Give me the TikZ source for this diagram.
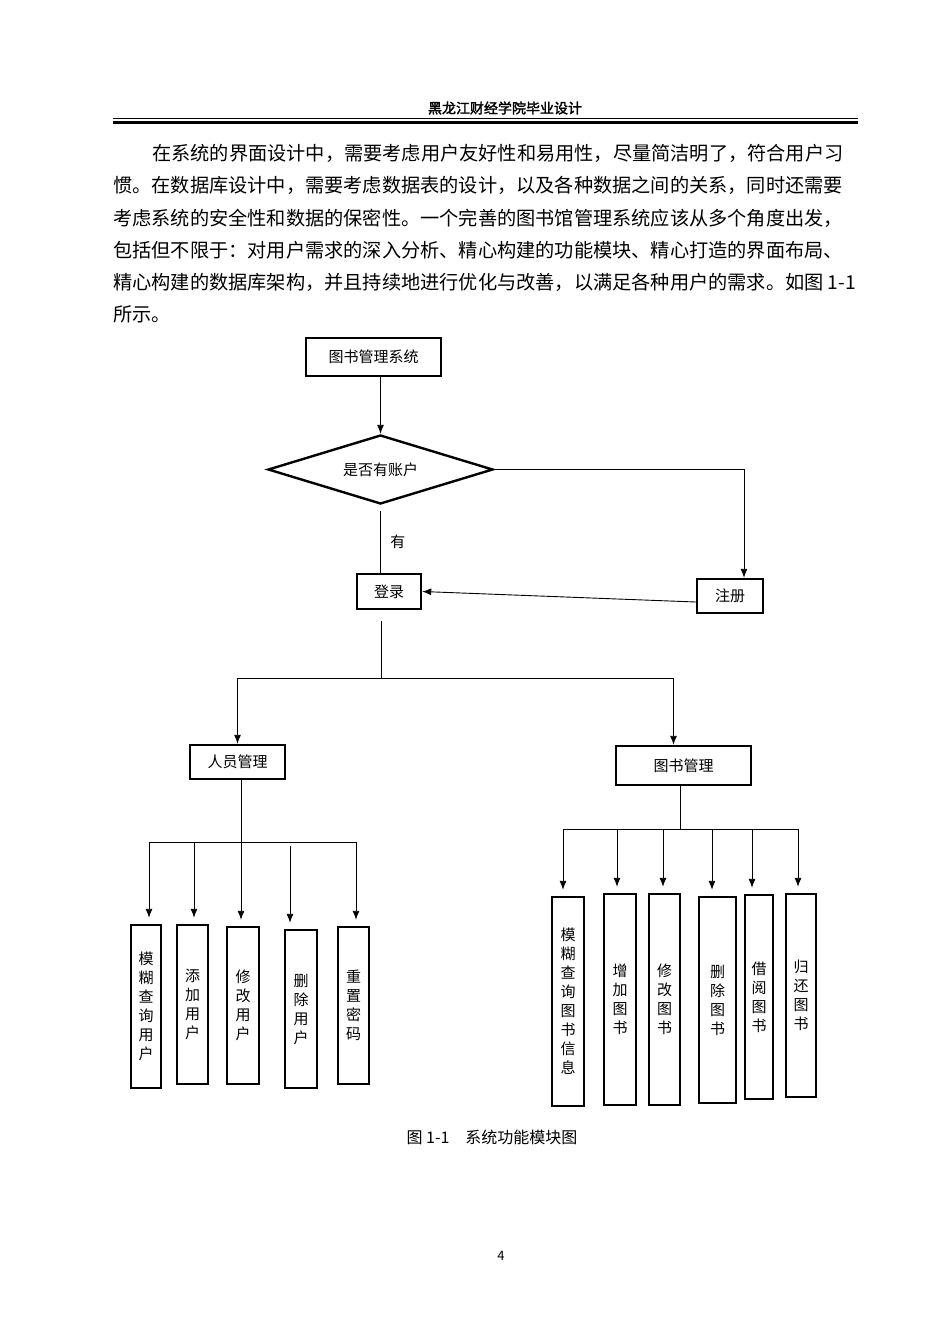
\documentclass[tikz,border=0pt]{standalone}
\usepackage{fontspec}
\setmainfont{Noto Sans CJK SC}[AutoFakeBold=2]
\usetikzlibrary{shapes.geometric,arrows.meta}
\tikzset{
  box/.style={draw, line width=2.4pt, inner sep=0pt, font=\fontsize{15pt}{19pt}\selectfont},
  vbox/.style={box, align=center},
  arr/.style={-{Latex[length=9pt,width=7pt]}, line width=0.9pt},
  ln/.style={line width=0.9pt},
  para/.style={anchor=west, inner sep=0pt, font=\fontsize{19.2pt}{19.2pt}\selectfont}
}
\begin{document}
\begin{tikzpicture}[x=1pt,y=1pt]
\useasboundingbox (0,0) rectangle (950,-1344);
% page header and text
\node[font=\fontsize{14pt}{14pt}\selectfont\bfseries] (head) at (505,-108) {黑龙江财经学院毕业设计};
\draw[line width=1pt] (113,-118) -- (858,-118);
\draw[line width=2.6pt] (113,-122.5) -- (858,-122.5);
\node[para] (p1) at (152,-153) {在系统的界面设计中，需要考虑用户友好性和易用性，尽量简洁明了，符合用户习};
\node[para] (p2) at (113,-185) {惯。在数据库设计中，需要考虑数据表的设计，以及各种数据之间的关系，同时还需要};
\node[para] (p3) at (113,-218) {考虑系统的安全性和数据的保密性。一个完善的图书馆管理系统应该从多个角度出发，};
\node[para] (p4) at (113,-250) {包括但不限于：对用户需求的深入分析、精心构建的功能模块、精心打造的界面布局、};
\node[para] (p5) at (113,-282) {精心构建的数据库架构，并且持续地进行优化与改善，以满足各种用户的需求。如图 1-1};
\node[para] (p6) at (113,-314) {所示。};
% top of the chart
\node[box, minimum width=135pt, minimum height=38pt] (sys) at (373.5,-357) {图书管理系统};
\node[draw, diamond, line width=2.4pt, inner sep=0pt, aspect=3.26, minimum width=225pt, minimum height=69pt, font=\fontsize{15pt}{19pt}\selectfont] (acc) at (380.5,-469.5) {是否有账户};
\node[box, minimum width=64pt, minimum height=35pt] (login) at (389,-591.5) {登录};
\node[box, minimum width=66pt, minimum height=34pt] (reg) at (730,-596) {注册};
\draw[arr] (acc.north |- sys.south) -- (acc.north);
\draw[arr] (acc.east) -| ([xshift=14pt]reg.north);
\draw[ln] ([yshift=-6pt]acc.south) -- (acc.south |- login.north) node[midway, right=6pt, font=\fontsize{15pt}{15pt}\selectfont] {有};
\draw[arr] ([yshift=-6pt]reg.west) -- (login.east);
% second level
\node[box, minimum width=95pt, minimum height=34pt] (user) at (237.5,-762) {人员管理};
\node[box, minimum width=135pt, minimum height=39pt] (book) at (683.5,-765.5) {图书管理};
\coordinate (mid) at (381,-678);
\draw[ln] ([yshift=-11pt]login.south -| mid) -- (mid);
\draw[arr] (mid) -| (user.north);
\draw[arr] (mid) -| ([xshift=-10pt]book.north);
% user functions
\node[vbox, minimum width=30pt, minimum height=163pt] (u1) at (146,-1006.5) {模\\糊\\查\\询\\用\\户};
\node[vbox, minimum width=31pt, minimum height=159pt] (u2) at (192.5,-1004.5) {添\\加\\用\\户};
\node[vbox, minimum width=32pt, minimum height=157pt] (u3) at (243,-1005.5) {修\\改\\用\\户};
\node[vbox, minimum width=32pt, minimum height=158pt] (u4) at (301,-1009) {删\\除\\用\\户};
\node[vbox, minimum width=31pt, minimum height=157pt] (u5) at (353.5,-1005.5) {重\\置\\密\\码};
\coordinate (ua) at (149,-842);
\coordinate (ub) at (194,-842);
\coordinate (uc) at (241,-842);
\coordinate (ud) at (290,-842);
\coordinate (ue) at (356,-842);
\draw[ln] (ua) -- (ue);
\draw[arr, shorten >=6pt] (user.south -| uc) -- (uc |- u3.north);
\draw[arr, shorten >=6pt] (ua) -- (ua |- u1.north);
\draw[arr, shorten >=6pt] (ub) -- (ub |- u2.north);
\draw[arr, shorten >=6pt] ([yshift=-4pt]ud) -- (ud |- u4.north);
\draw[arr, shorten >=6pt] (ue) -- (ue |- u5.north);
% book functions
\node[vbox, minimum width=32pt, minimum height=209pt] (b1) at (568,-1001.5) {模\\糊\\查\\询\\图\\书\\信\\息};
\node[vbox, minimum width=32pt, minimum height=211pt] (b2) at (620,-999.5) {增\\加\\图\\书};
\node[vbox, minimum width=31pt, minimum height=211pt] (b3) at (664.5,-999.5) {修\\改\\图\\书};
\node[vbox, minimum width=37pt, minimum height=206pt] (b4) at (717.5,-1000) {删\\除\\图\\书};
\node[vbox, minimum width=28pt, minimum height=204pt] (b5) at (759,-997) {借\\阅\\图\\书};
\node[vbox, minimum width=30pt, minimum height=203pt] (b6) at (801,-995.5) {归\\还\\图\\书};
\coordinate (bs) at (680,-829);
\coordinate (ba) at (563,-829);
\coordinate (bb) at (617,-829);
\coordinate (bc) at (663,-829);
\coordinate (bd) at (712,-829);
\coordinate (be) at (752,-829);
\coordinate (bf) at (798,-829);
\draw[ln] (book.south -| bs) -- (bs);
\draw[ln] (ba) -- (bf);
\draw[arr, shorten >=6pt] (ba) -- (ba |- b1.north);
\draw[arr, shorten >=6pt] (bb) -- (bb |- b2.north);
\draw[arr, shorten >=6pt] (bc) -- (bc |- b3.north);
\draw[arr, shorten >=6pt] (bd) -- (bd |- b4.north);
\draw[arr, shorten >=6pt] (be) -- (be |- b5.north);
\draw[arr, shorten >=6pt] (bf) -- (bf |- b6.north);
% caption and page number
\node[font=\fontsize{16pt}{16pt}\selectfont] (cap) at (492,-1137) {图 1-1\quad 系统功能模块图};
\node[font=\fontsize{13pt}{13pt}\selectfont] (page) at (501,-1256) {4};
\end{tikzpicture}
\end{document}
